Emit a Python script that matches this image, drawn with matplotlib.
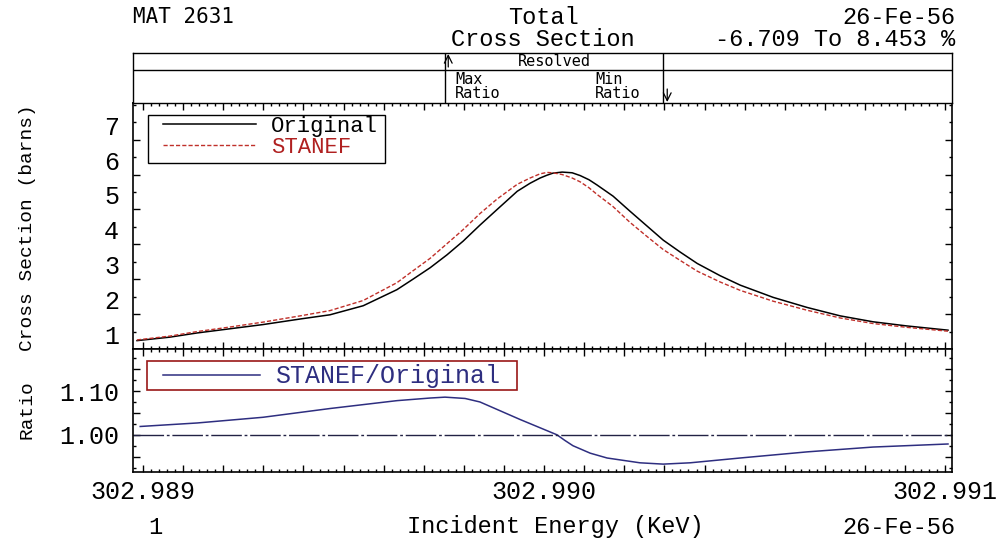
import numpy as np
import matplotlib.pyplot as plt
from matplotlib.patches import Rectangle
from matplotlib.ticker import FixedLocator, MultipleLocator, FuncFormatter, NullFormatter

# incident energy (keV) and cross sections (barns)
energy = [302.988985, 302.989067, 302.989135, 302.989217, 302.989299, 302.989392,
          302.989466, 302.989549, 302.989633, 302.989673, 302.989716, 302.989758,
          302.989798, 302.989840, 302.989883, 302.989933, 302.989965, 302.989990,
          302.990007, 302.990022, 302.990045, 302.990070, 302.990090, 302.990112,
          302.990132, 302.990172, 302.990214, 302.990257, 302.990297, 302.990339,
          302.990382, 302.990439, 302.990489, 302.990571, 302.990656, 302.990738,
          302.990820, 302.990905, 302.991007]
sigma_original = [1.24, 1.34, 1.46, 1.58, 1.70, 1.86, 1.98, 2.24, 2.70, 3.00, 3.33, 3.70,
                  4.09, 4.55, 5.00, 5.52, 5.75, 5.90, 5.98, 6.04, 6.07, 6.05, 5.97, 5.85,
                  5.70, 5.38, 4.95, 4.52, 4.12, 3.78, 3.45, 3.10, 2.83, 2.48, 2.19, 1.95,
                  1.78, 1.66, 1.54]
sigma_stanef = [1.26, 1.37, 1.50, 1.63, 1.77, 1.95, 2.10, 2.39, 2.90, 3.24, 3.60, 4.02,
                4.42, 4.88, 5.30, 5.72, 5.90, 6.02, 6.06, 6.05, 6.00, 5.90, 5.79, 5.62,
                5.43, 5.08, 4.63, 4.22, 3.85, 3.54, 3.23, 2.92, 2.68, 2.37, 2.11, 1.89,
                1.73, 1.62, 1.51]

# STANEF/Original ratio
ratio_energy = [302.988993, 302.989135, 302.989299, 302.989466, 302.989633, 302.989716,
                302.989753, 302.989803, 302.989840, 302.989890, 302.989940, 302.989990,
                302.990032, 302.990052, 302.990072, 302.990115, 302.990157, 302.990239,
                302.990297, 302.990364, 302.990489, 302.990656, 302.990820, 302.991007]
ratio_values = [1.019, 1.027, 1.040, 1.060, 1.078, 1.084, 1.086, 1.083, 1.075, 1.055,
                1.035, 1.016, 1.000, 0.987, 0.975, 0.958, 0.947, 0.936, 0.933, 0.936,
                0.947, 0.961, 0.972, 0.979]

x_ticks = [302.989, 302.990, 302.991]
x_tick_labels = ['302.989', '302.990', '302.991']
y_ticks = [1, 2, 3, 4, 5, 6, 7]
ratio_ticks = [1.00, 1.10]
ratio_tick_labels = ['1.00', '1.10']

W, H = 996, 542
MONO = 'Liberation Mono'
RED = '#c0302a'
BLUE = '#2e2e80'


def fx(px):
    return px / W


def fy(py):
    return 1 - py / H


fig = plt.figure(figsize=(W / 100, H / 100), dpi=100)
plt.rcParams['font.family'] = [MONO, 'DejaVu Sans Mono']

x_lo, x_hi = 302.988975, 302.991017
left, right = fx(133), fx(952)

ax1 = fig.add_axes([left, fy(349), right - left, fy(103) - fy(349)])
ax2 = fig.add_axes([left, fy(472), right - left, fy(349) - fy(472)])
axh = fig.add_axes([left, fy(103), right - left, fy(53) - fy(103)])

# upper panel
ax1.plot(energy, sigma_original, color='black', lw=1.1, label='Original')
ax1.plot(energy, sigma_stanef, color=RED, lw=1.0, ls=(0, (3, 1.5)), label='STANEF')
ax1.set_xlim(x_lo, x_hi)
ax1.set_ylim(1, 8.05)
ax1.yaxis.set_major_locator(FixedLocator(y_ticks))
ax1.yaxis.set_minor_locator(MultipleLocator(0.5))
ax1.set_yticklabels([str(v) for v in y_ticks])

# lower panel
ax2.plot(ratio_energy, ratio_values, color=BLUE, lw=1.1, label='STANEF/Original')
ax2.axhline(1.0, color='#222244', lw=1.0, ls=(0, (22, 2, 2, 2)))
ax2.set_xlim(x_lo, x_hi)
ax2.set_ylim(0.915, 1.196)
ax2.yaxis.set_major_locator(MultipleLocator(0.05))
ax2.yaxis.set_minor_locator(MultipleLocator(0.025))
ax2.yaxis.set_major_formatter(FuncFormatter(
    lambda v, p: next((l for t, l in zip(ratio_ticks, ratio_tick_labels) if abs(v - t) < 1e-6), '')))

major_x = np.linspace(x_ticks[0], x_ticks[-1], 21)
minor_x = np.linspace(x_ticks[0], x_ticks[-1], 101)
for ax in (ax1, ax2):
    ax.xaxis.set_major_locator(FixedLocator(major_x))
    ax.xaxis.set_minor_locator(FixedLocator(minor_x))
    ax.tick_params(which='both', direction='in', top=True, right=True, width=1.0,
                   labelsize=18, pad=10)
    ax.tick_params(which='major', length=5)
    ax.tick_params(which='minor', length=2.5)
    for s in ax.spines.values():
        s.set_linewidth(1.2)
ax1.xaxis.set_major_formatter(NullFormatter())
ax2.xaxis.set_major_formatter(FuncFormatter(
    lambda v, p: next((l for t, l in zip(x_ticks, x_tick_labels) if abs(v - t) < 1e-7), '')))
ax2.tick_params(axis='x', pad=6)
for lab in ax1.get_yticklabels():
    lab.set_verticalalignment('bottom')

# legends: frame drawn separately so its size matches the original box
ax1.add_patch(Rectangle((0.0183, 0.756), 0.2894, 0.195, transform=ax1.transAxes,
                        facecolor='white', edgecolor='black', lw=1.0, zorder=4))
leg1 = ax1.legend(loc='upper left', bbox_to_anchor=(0.0366, 0.948), borderaxespad=0,
                  fontsize=16, handlelength=4.2, handletextpad=0.65, labelspacing=0.0,
                  borderpad=0, frameon=False)
leg1.set_zorder(5)
leg1.get_texts()[1].set_color('#b02020')

ax2.add_patch(Rectangle((0.0171, 0.667), 0.4518, 0.236, transform=ax2.transAxes,
                        facecolor='white', edgecolor='#9a1818', lw=1.2, zorder=4))
leg2 = ax2.legend(loc='upper left', bbox_to_anchor=(0.0366, 0.875), borderaxespad=0,
                  fontsize=18, handlelength=3.9, handletextpad=0.6, borderpad=0,
                  frameon=False)
leg2.set_zorder(5)
leg2.get_texts()[0].set_color(BLUE)

# header box with max / min ratio markers
e_max = ratio_energy[int(np.argmax(ratio_values))]
e_min = ratio_energy[int(np.argmin(ratio_values))]
axh.set_xlim(x_lo, x_hi)
axh.set_ylim(0, 1)
axh.set_xticks([])
axh.set_yticks([])
for s in axh.spines.values():
    s.set_linewidth(1.0)
axh.axhline(0.66, color='black', lw=1.0)
axh.vlines([e_max, e_min], 0, 1, color='black', lw=1.0)
axh.annotate('', xy=(e_max + 0.000008, 0.98), xytext=(e_max + 0.000008, 0.72),
             arrowprops=dict(arrowstyle='->', lw=0.9, color='black', mutation_scale=14,
                             shrinkA=0, shrinkB=0))
axh.annotate('', xy=(e_min + 0.000010, 0.02), xytext=(e_min + 0.000010, 0.28),
             arrowprops=dict(arrowstyle='->', lw=0.9, color='black', mutation_scale=14,
                             shrinkA=0, shrinkB=0))
axh.text((e_max + e_min) / 2, 0.83, 'Resolved', ha='center', va='center', fontsize=11,
         family='DejaVu Sans Mono')
axh.text(e_max + 0.000025, 0.33, 'Max\nRatio', ha='left', va='center', fontsize=11,
         family='DejaVu Sans Mono', linespacing=1.0)
axh.text(e_min - 0.00017, 0.33, 'Min\nRatio', ha='left', va='center', fontsize=11,
         family='DejaVu Sans Mono', linespacing=1.0)

# titles and labels
fig.text(fx(133), fy(17), 'MAT 2631', ha='left', va='center', fontsize=15,
         family='DejaVu Sans Mono')
fig.text(fx(543), fy(17), 'Total', ha='center', va='center', fontsize=17)
fig.text(fx(543), fy(40), 'Cross Section', ha='center', va='center', fontsize=17)
fig.text(fx(955), fy(17), '26-Fe-56', ha='right', va='center', fontsize=17)
fig.text(fx(955), fy(40), '-6.709 To 8.453 %', ha='right', va='center', fontsize=17)

fig.text(fx(27), fy(228), 'Cross Section (barns)', rotation=90, ha='center',
         va='center', fontsize=14)
fig.text(fx(27), fy(410), 'Ratio', rotation=90, ha='center', va='center', fontsize=14)

fig.text(fx(155), fy(527), '1', ha='center', va='center', fontsize=17)
fig.text(fx(555), fy(527), 'Incident Energy (KeV)', ha='center', va='center', fontsize=17)
fig.text(fx(955), fy(527), '26-Fe-56', ha='right', va='center', fontsize=17)

fig.savefig('out.png', dpi=100)
